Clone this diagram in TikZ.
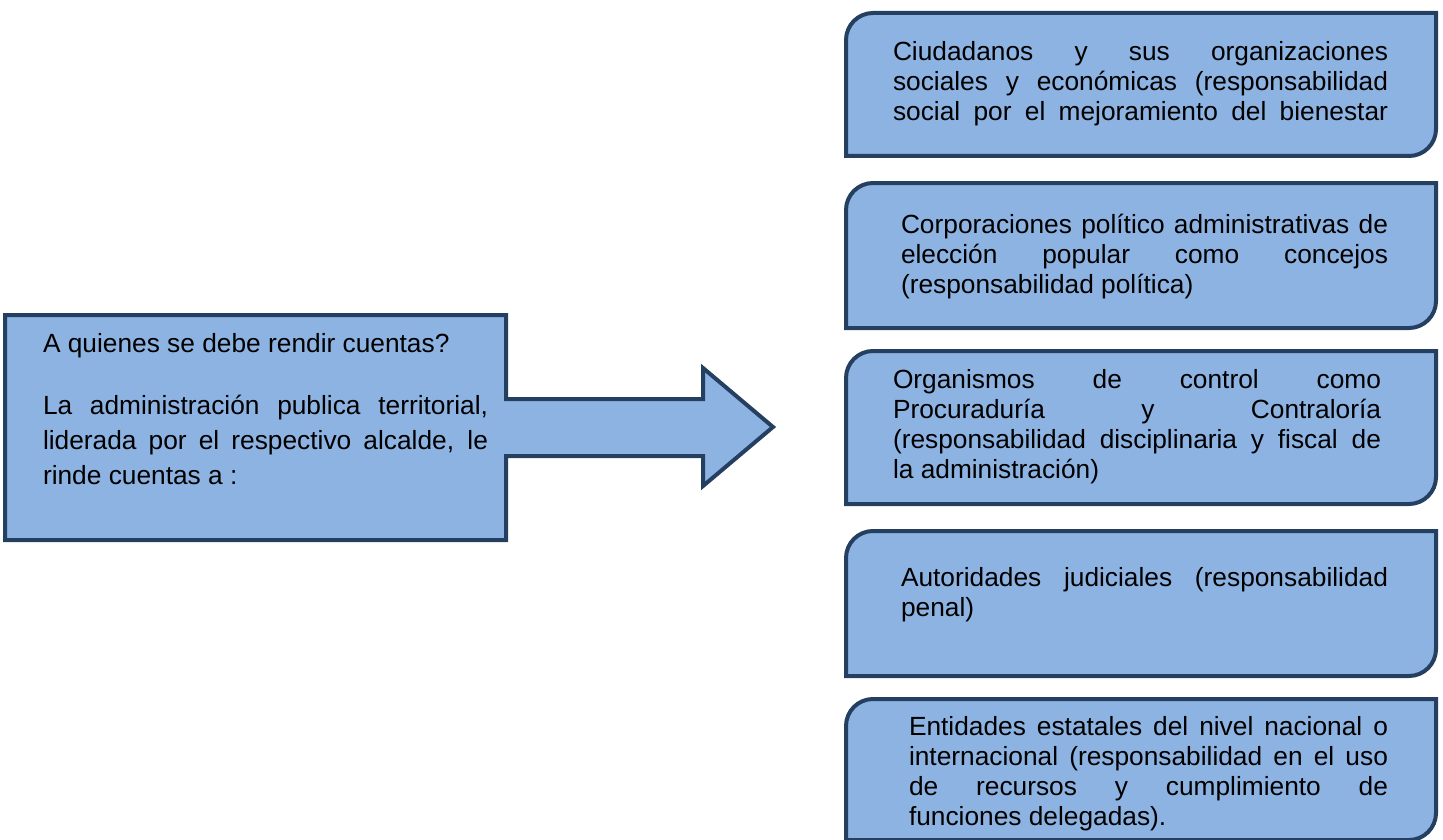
\documentclass[tikz,border=0pt]{standalone}
\usepackage{fontspec}
\setmainfont{Liberation Sans}
\definecolor{boxfill}{HTML}{8DB3E2}
\definecolor{boxline}{HTML}{243F60}
\newcommand\J{\rightskip=0pt\leftskip=0pt\spaceskip=0pt\xspaceskip=0pt\tolerance=10000\hbadness=10000\pretolerance=-1\hyphenpenalty=10000}
\newcommand\rbx[4]{\draw[shapebox] (#1,-#4) -- (#1,{-#2-27}) arc[start angle=180,end angle=90,radius=27pt] -- (#3,-#2) -- (#3,{-#4+27}) arc[start angle=0,end angle=-90,radius=27pt] -- cycle;}
\tikzset{
  shapebox/.style={fill=boxfill, draw=boxline, line width=4pt, line join=miter},
  txt/.style={anchor=base west, inner sep=0pt, outer sep=0pt, align=justify, font=\fontsize{26.3}{30}\selectfont}
}
\begin{document}
\begin{tikzpicture}[x=1pt,y=1pt]
\useasboundingbox (0,0) rectangle (1443,-840);
% left callout with arrow
\draw[shapebox] (5,-315) -- (506,-315) -- (506,-399) -- (703,-399) -- (703,-368) -- (773,-427) -- (703,-486) -- (703,-456) -- (506,-456) -- (506,-540) -- (5,-540) -- cycle;
\node[txt, text width=445pt] (q) at (43,-352) {\J A quienes se debe rendir cuentas?};
\node[txt, text width=445pt, font=\fontsize{26.3}{35}\selectfont] (adm) at (43,-414) {\J La administración publica territorial,\linebreak liderada por el respectivo alcalde, le\linebreak rinde cuentas a :};
% right boxes
\rbx{846}{13}{1436}{156}
\rbx{846}{183}{1436}{328}
\rbx{846}{351}{1436}{504}
\rbx{846}{531}{1436}{676}
\rbx{846}{699}{1436}{840}
\node[txt, text width=495pt] (b1) at (893,-61) {\J Ciudadanos y sus organizaciones\linebreak sociales y económicas (responsabilidad\linebreak social por el mejoramiento del bienestar\parfillskip=0pt\par};
\node[txt, text width=487pt] (b2) at (901,-233) {\J Corporaciones político administrativas de\linebreak elección popular como concejos\linebreak (responsabilidad política)};
\node[txt, text width=488pt] (b3) at (893,-388) {\J Organismos de control como\linebreak Procuraduría y Contraloría\linebreak (responsabilidad disciplinaria y fiscal de\linebreak la administración)};
\node[txt, text width=487pt] (b4) at (901,-586) {\J Autoridades judiciales (responsabilidad\linebreak penal)};
\node[txt, text width=479pt] (b5) at (909,-735) {\J Entidades estatales del nivel nacional o\linebreak internacional (responsabilidad en el uso\linebreak de recursos y cumplimiento de\linebreak funciones delegadas).};
\end{tikzpicture}
\end{document}
